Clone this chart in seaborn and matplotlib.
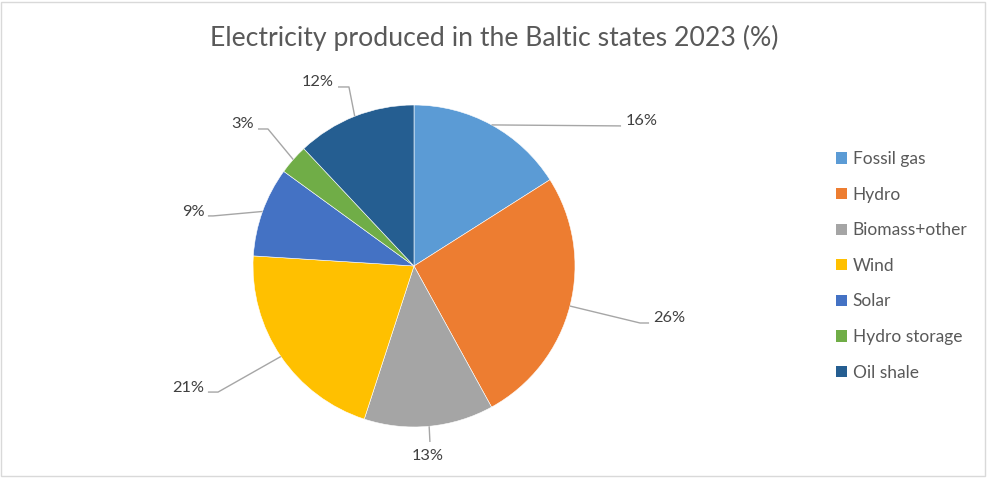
import matplotlib
matplotlib.use("Agg")
import matplotlib.pyplot as plt
import seaborn as sns
import numpy as np
from matplotlib.patches import Patch, Rectangle

sources = ["Fossil gas", "Hydro", "Biomass+other", "Wind", "Solar",
           "Hydro storage", "Oil shale"]
shares = [16, 26, 13, 21, 9, 3, 12]
colors = ["#5B9BD5", "#ED7D31", "#A5A5A5", "#FFC000", "#4472C4",
          "#70AD47", "#255E91"]
title = "Electricity produced in the Baltic states 2023 (%)"

sns.set_theme(style="white")
plt.rcParams["font.family"] = ["Lato", "DejaVu Sans"]

W, H = 988, 478
R = 161            # pie radius in pixels
CX, CY = 414, 266  # pie centre in pixels (from top-left)

fig = plt.figure(figsize=(W / 100, H / 100), dpi=100)
ax = fig.add_axes([0, 0, 1, 1])
palette = sns.color_palette(colors)

wedges, _ = ax.pie(shares, colors=palette, startangle=90, counterclock=False,
                   radius=1, center=(0, 0),
                   wedgeprops=dict(edgecolor="white", linewidth=0.4))

# one pie radius = R pixels, so the axes limits map the whole canvas
ax.set_xlim(-CX / R, (W - CX) / R)
ax.set_ylim(-(H - CY) / R, CY / R)
ax.set_aspect("equal")
ax.axis("off")

# leader-line layout per slice: elbow, stub end, text centre (radius units)
elbows = [(1.286, 0.870), (1.404, -0.354), (0.099, -1.093), (-1.217, -0.783),
          (-1.248, 0.311), (-0.907, 0.851), (-0.404, 1.112)]
ends = [(1.286, 0.870), (1.460, -0.354), (0.099, -1.093), (-1.280, -0.783),
        (-1.280, 0.311), (-0.969, 0.851), (-0.472, 1.112)]
texts = [(1.416, 0.901), (1.584, -0.323), (0.087, -1.180), (-1.404, -0.758),
         (-1.373, 0.335), (-1.062, 0.882), (-0.596, 1.143)]

for w, val, el, en, tx in zip(wedges, shares, elbows, ends, texts):
    mid = np.deg2rad((w.theta1 + w.theta2) / 2)
    ex, ey = np.cos(mid), np.sin(mid)
    ax.plot([ex, el[0], en[0]], [ey, el[1], en[1]], color="#A6A6A6",
            lw=1.0, solid_capstyle="butt", zorder=1)
    ax.text(tx[0], tx[1], f"{val}%", ha="center", va="center",
            fontsize=11.8, color="#404040")

fig.text(0.5, 1 - 38 / H, title, ha="center", va="center",
         fontsize=19.2, color="#595959")

handles = [Patch(facecolor=c, edgecolor="none") for c in palette]
leg = fig.legend(handles, sources, loc="upper left",
                 bbox_to_anchor=(836 / W, 1 - 151 / H),
                 frameon=False, fontsize=12.5, handlelength=0.62,
                 handleheight=0.62, handletextpad=0.35, labelspacing=1.13,
                 borderpad=0, borderaxespad=0)
for t in leg.get_texts():
    t.set_color("#595959")

fig.patches.append(Rectangle((1 / W, 2 / H), 984 / W, 474 / H,
                             transform=fig.transFigure, fill=False,
                             edgecolor="#D9D9D9", linewidth=1))

fig.savefig("out.png", dpi=100)
